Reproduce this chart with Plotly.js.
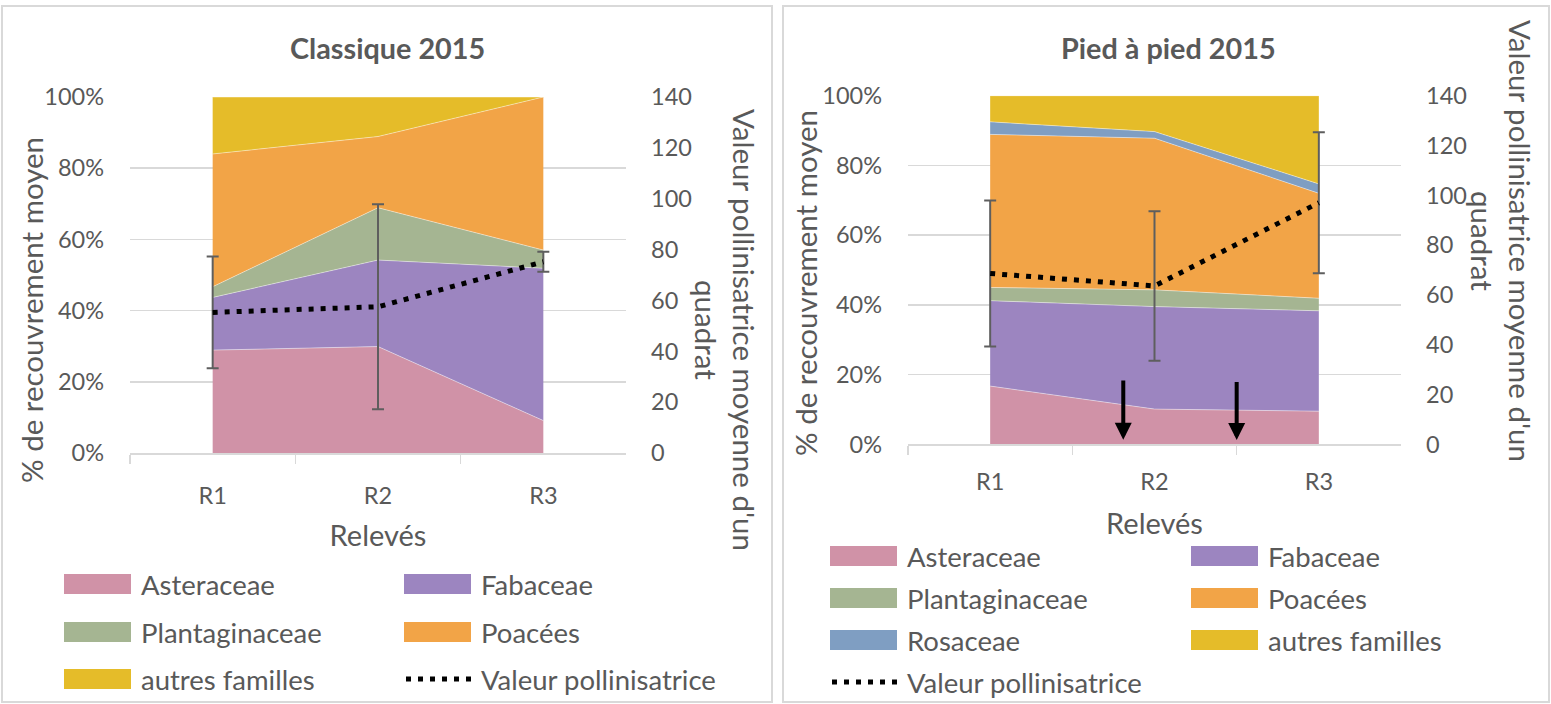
<!DOCTYPE html>
<html>
<head>
<meta charset="utf-8">
<script src="https://cdn.plot.ly/plotly-3.0.1.min.js"></script>
<style>
html,body{margin:0;padding:0;background:#fff;}
#chart{width:1551px;height:704px;}
</style>
</head>
<body>
<div id="chart"></div>
<script>
// ---------- DATA ----------
const categories = ['R1', 'R2', 'R3'];

// Left panel : Classique 2015 (% of mean cover)
const leftTitle = 'Classique 2015';
const leftFamilies = ['Asteraceae', 'Fabaceae', 'Plantaginaceae', 'Poacées', 'autres familles'];
const leftAsteraceae = [28.9, 29.9, 9.1];
const leftFabaceae = [14.8, 24.3, 42.8];
const leftPlantaginaceae = [3.0, 14.7, 5.1];
const leftPoacees = [37.3, 20.0, 43.0];
const leftAutres = [16.0, 11.1, 0.0];
const leftPollinValue = [55.3, 57.5, 75.2];
const leftPollinError = [22.0, 40.3, 3.9];

// Right panel : Pied à pied 2015
const rightTitle = 'Pied à pied 2015';
const rightFamilies = ['Asteraceae', 'Fabaceae', 'Plantaginaceae', 'Poacées', 'Rosaceae', 'autres familles'];
const rightAsteraceae = [16.7, 10.1, 9.5];
const rightFabaceae = [24.5, 29.4, 28.8];
const rightPlantaginaceae = [3.8, 4.8, 3.6];
const rightPoacees = [43.9, 43.5, 30.1];
const rightRosaceae = [3.6, 1.9, 2.7];
const rightAutres = [7.5, 10.3, 25.3];
const rightPollinValue = [68.6, 63.6, 97.0];
const rightPollinError = [29.3, 30.0, 28.3];

const pollinName = 'Valeur pollinisatrice';
const xTitle = 'Relevés';
const yLeftTitle = '% de recouvrement moyen';
const yRightTitle = 'Valeur pollinisatrice moyenne d\'un<br>quadrat';

// Arrows drawn on the right panel (category index, % cover)
const arrowX = [0.81, 1.50];
const arrowTipY = [1.3, 1.2];
const arrowTailY = [18.7, 18.3];

// ---------- STYLE ----------
const familyColors = {
  'Asteraceae': '#D092A7',
  'Fabaceae': '#9C85C0',
  'Plantaginaceae': '#A5B592',
  'Poacées': '#F2A447',
  'Rosaceae': '#7F9EC2',
  'autres familles': '#E5BC29'
};
const textColor = '#595959';
const gridColor = '#D9D9D9';
const FONT = 'Lato, "Open Sans", sans-serif';
const W = 1551, H = 704;
const px = v => v / W;
const py = v => 1 - v / H;

const leftSeries = [leftAsteraceae, leftFabaceae, leftPlantaginaceae, leftPoacees, leftAutres];
const rightSeries = [rightAsteraceae, rightFabaceae, rightPlantaginaceae, rightPoacees, rightRosaceae, rightAutres];

const traces = [];
leftFamilies.forEach((name, i) => {
  traces.push({
    type: 'scatter', mode: 'lines', name: name, x: categories, y: leftSeries[i],
    xaxis: 'x', yaxis: 'y', stackgroup: 'left',
    line: {width: 0.8, color: 'rgba(255,255,255,0.55)'},
    fillcolor: familyColors[name], showlegend: false
  });
});
traces.push({
  type: 'scatter', mode: 'lines', name: pollinName, x: categories, y: leftPollinValue,
  xaxis: 'x', yaxis: 'y2',
  line: {color: '#000000', width: 5, dash: '5px,7px'},
  error_y: {type: 'data', array: leftPollinError, visible: true, color: '#5E5E5E', thickness: 2, width: 6},
  showlegend: false
});
rightFamilies.forEach((name, i) => {
  traces.push({
    type: 'scatter', mode: 'lines', name: name, x: categories, y: rightSeries[i],
    xaxis: 'x2', yaxis: 'y3', stackgroup: 'right',
    line: {width: 0.8, color: 'rgba(255,255,255,0.55)'},
    fillcolor: familyColors[name], showlegend: false
  });
});
traces.push({
  type: 'scatter', mode: 'lines', name: pollinName, x: categories, y: rightPollinValue,
  xaxis: 'x2', yaxis: 'y4',
  line: {color: '#000000', width: 5, dash: '5px,7px'},
  error_y: {type: 'data', array: rightPollinError, visible: true, color: '#5E5E5E', thickness: 2, width: 6},
  showlegend: false
});

const tickFont = {family: FONT, size: 23.5, color: textColor};

function xAxis(domain, anchor, labelGap, titleGap) {
  return {
    domain: domain, anchor: anchor, type: 'category', range: [-0.5, 2.5],
    showgrid: false, showline: true, linecolor: gridColor, linewidth: 1.5,
    ticks: 'outside', tickson: 'boundaries', ticklen: 9, tickcolor: gridColor, tickwidth: 1.5,
    tickfont: tickFont, ticklabelstandoff: labelGap,
    title: {text: xTitle, font: {family: FONT, size: 29, color: textColor}, standoff: titleGap},
    zeroline: false, fixedrange: true
  };
}
function yPct(domain, anchor) {
  return {
    domain: domain, anchor: anchor, range: [0, 100], dtick: 20, ticksuffix: '%',
    showgrid: true, gridcolor: gridColor, gridwidth: 1.5, zeroline: false, showline: false,
    ticks: '', tickfont: tickFont, ticklabelstandoff: 25, fixedrange: true
  };
}
function yVal(overlay, anchor) {
  return {
    overlaying: overlay, anchor: anchor, side: 'right', range: [0, 140], dtick: 20,
    showgrid: false, zeroline: false, showline: false, ticks: '',
    tickfont: tickFont, ticklabelstandoff: 24, fixedrange: true
  };
}

const shapes = [];
const annotations = [];

// Panel borders
shapes.push({type: 'rect', xref: 'paper', yref: 'paper', x0: px(2), x1: px(772), y0: py(702), y1: py(6), line: {color: gridColor, width: 2}});
shapes.push({type: 'rect', xref: 'paper', yref: 'paper', x0: px(783), x1: px(1549), y0: py(702), y1: py(6), line: {color: gridColor, width: 2}});

// Titles
annotations.push({xref: 'paper', yref: 'paper', x: px(387), y: py(48), text: '<b>' + leftTitle + '</b>', showarrow: false, font: {family: FONT, size: 28.8, color: textColor}, xanchor: 'center', yanchor: 'middle'});
annotations.push({xref: 'paper', yref: 'paper', x: px(1168), y: py(48), text: '<b>' + rightTitle + '</b>', showarrow: false, font: {family: FONT, size: 28.8, color: textColor}, xanchor: 'center', yanchor: 'middle'});

// Y axis titles
const axTitleFont = {family: FONT, size: 29.5, color: textColor};
annotations.push({xref: 'paper', yref: 'paper', x: px(31), y: py(310), text: yLeftTitle, textangle: -90, showarrow: false, font: axTitleFont, xanchor: 'center', yanchor: 'middle'});
annotations.push({xref: 'paper', yref: 'paper', x: px(805), y: py(283), text: yLeftTitle, textangle: -90, showarrow: false, font: axTitleFont, xanchor: 'center', yanchor: 'middle'});
annotations.push({xref: 'paper', yref: 'paper', x: px(726), y: py(330), text: yRightTitle, textangle: 90, showarrow: false, font: axTitleFont, xanchor: 'center', yanchor: 'middle'});
annotations.push({xref: 'paper', yref: 'paper', x: px(1501), y: py(241), text: yRightTitle, textangle: 90, showarrow: false, font: axTitleFont, xanchor: 'center', yanchor: 'middle'});

// Arrows
arrowX.forEach((xv, i) => {
  annotations.push({xref: 'x2', yref: 'y3', axref: 'x2', ayref: 'y3', x: xv, y: arrowTipY[i], ax: xv, ay: arrowTailY[i],
    text: '', showarrow: true, arrowhead: 2, arrowsize: 0.85, arrowwidth: 4, arrowcolor: '#000000'});
});

// Legends (manual, two columns)
const legFont = {family: FONT, size: 27.5, color: textColor};
function legendEntry(label, swX, rowY, kind) {
  if (kind === 'line') {
    shapes.push({type: 'line', xref: 'paper', yref: 'paper', x0: px(swX + 2), x1: px(swX + 67), y0: py(rowY), y1: py(rowY),
      line: {color: '#000000', width: 5, dash: '5px,7px'}});
  } else {
    shapes.push({type: 'rect', xref: 'paper', yref: 'paper', x0: px(swX), x1: px(swX + 67), y0: py(rowY + 10), y1: py(rowY - 10),
      fillcolor: familyColors[label], line: {width: 0}});
  }
  annotations.push({xref: 'paper', yref: 'paper', x: px(swX + 75), y: py(rowY), text: label, showarrow: false,
    xanchor: 'left', yanchor: 'middle', font: legFont});
}
const leftLegendItems = leftFamilies.concat([pollinName]);
const leftCols = [64, 404], leftRows = [584, 632, 679];
leftLegendItems.forEach((name, i) => {
  legendEntry(name, leftCols[i % 2], leftRows[Math.floor(i / 2)], name === pollinName ? 'line' : 'rect');
});
const rightLegendItems = rightFamilies.concat([pollinName]);
const rightCols = [830, 1191], rightRows = [556, 598, 640, 682];
rightLegendItems.forEach((name, i) => {
  legendEntry(name, rightCols[i % 2], rightRows[Math.floor(i / 2)], name === pollinName ? 'line' : 'rect');
});

const layout = {
  width: W, height: H,
  margin: {l: 0, r: 0, t: 0, b: 0},
  paper_bgcolor: '#ffffff', plot_bgcolor: 'rgba(0,0,0,0)',
  showlegend: false,
  font: {family: FONT, color: textColor},
  xaxis: xAxis([px(130), px(626)], 'y', 21, 18),
  yaxis: yPct([py(453), py(97)], 'x'),
  yaxis2: yVal('y', 'x'),
  xaxis2: xAxis([px(908), px(1401)], 'y3', 16, 19),
  yaxis3: yPct([py(444.3), py(95.7)], 'x2'),
  yaxis4: yVal('y3', 'x2'),
  shapes: shapes,
  annotations: annotations
};

Plotly.newPlot('chart', traces, layout, {displayModeBar: false, staticPlot: true});
</script>
</body>
</html>
